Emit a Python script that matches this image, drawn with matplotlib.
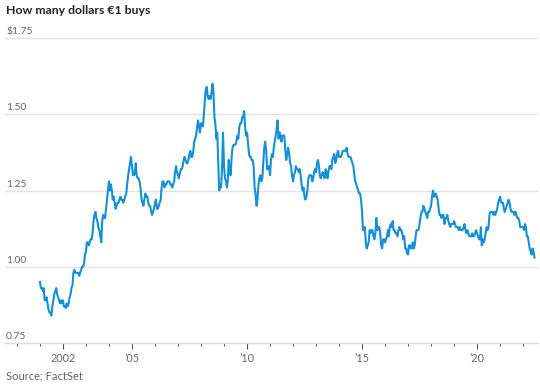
import matplotlib
matplotlib.use("Agg")
import matplotlib.pyplot as plt
import matplotlib.dates as mdates
import matplotlib.transforms as mtransforms
import pandas as pd

# EUR/USD, two readings per month (1st and 15th), Jan 2001 - Jul 2022
r2001 = [0.95, 0.93, 0.93, 0.92, 0.93, 0.89, 0.89, 0.90, 0.88, 0.86, 0.85, 0.85,
         0.84, 0.87, 0.89, 0.91, 0.92, 0.93, 0.91, 0.90, 0.89, 0.88, 0.89, 0.88]
r2002 = [0.89, 0.87, 0.87, 0.865, 0.88, 0.87, 0.88, 0.90, 0.91, 0.93, 0.94, 0.98,
         0.99, 0.98, 0.98, 0.98, 0.98, 0.97, 0.98, 0.99, 1.00, 1.00, 1.01, 1.04]
r2003 = [1.05, 1.08, 1.08, 1.07, 1.08, 1.09, 1.09, 1.11, 1.15, 1.17, 1.18, 1.16,
         1.15, 1.13, 1.12, 1.10, 1.08, 1.15, 1.17, 1.16, 1.16, 1.19, 1.22, 1.25]
r2004 = [1.28, 1.25, 1.27, 1.25, 1.22, 1.23, 1.21, 1.19, 1.20, 1.21, 1.21, 1.22,
         1.23, 1.22, 1.22, 1.21, 1.22, 1.23, 1.24, 1.27, 1.30, 1.32, 1.34, 1.36]
r2005 = [1.33, 1.30, 1.30, 1.31, 1.34, 1.30, 1.29, 1.29, 1.28, 1.26, 1.22, 1.21,
         1.20, 1.22, 1.24, 1.23, 1.23, 1.21, 1.20, 1.20, 1.18, 1.17, 1.18, 1.19]
r2006 = [1.21, 1.22, 1.19, 1.19, 1.20, 1.21, 1.22, 1.26, 1.28, 1.28, 1.26, 1.27,
         1.27, 1.28, 1.28, 1.28, 1.27, 1.27, 1.26, 1.27, 1.28, 1.31, 1.33, 1.31]
r2007 = [1.30, 1.29, 1.31, 1.32, 1.32, 1.33, 1.35, 1.36, 1.35, 1.34, 1.34, 1.35,
         1.37, 1.38, 1.36, 1.36, 1.38, 1.41, 1.42, 1.43, 1.46, 1.48, 1.46, 1.44]
r2008 = [1.47, 1.47, 1.46, 1.50, 1.54, 1.58, 1.59, 1.56, 1.55, 1.56, 1.55, 1.57,
         1.60, 1.58, 1.49, 1.47, 1.42, 1.44, 1.34, 1.25, 1.27, 1.26, 1.33, 1.44]
r2009 = [1.33, 1.29, 1.28, 1.26, 1.28, 1.35, 1.32, 1.30, 1.36, 1.39, 1.40, 1.40,
         1.40, 1.41, 1.43, 1.42, 1.46, 1.47, 1.47, 1.49, 1.49, 1.51, 1.46, 1.43]
r2010 = [1.44, 1.41, 1.37, 1.36, 1.36, 1.35, 1.35, 1.33, 1.26, 1.24, 1.20, 1.22,
         1.27, 1.29, 1.30, 1.28, 1.29, 1.34, 1.39, 1.41, 1.38, 1.32, 1.32, 1.33]
r2011 = [1.30, 1.35, 1.37, 1.36, 1.39, 1.41, 1.43, 1.45, 1.48, 1.42, 1.44, 1.43,
         1.41, 1.43, 1.43, 1.43, 1.38, 1.35, 1.37, 1.39, 1.37, 1.34, 1.33, 1.30]
r2012 = [1.28, 1.30, 1.31, 1.33, 1.32, 1.32, 1.31, 1.32, 1.30, 1.27, 1.25, 1.26,
         1.23, 1.22, 1.23, 1.25, 1.29, 1.30, 1.30, 1.30, 1.28, 1.29, 1.31, 1.32]
r2013 = [1.31, 1.34, 1.35, 1.33, 1.30, 1.29, 1.30, 1.31, 1.30, 1.29, 1.32, 1.31,
         1.29, 1.31, 1.33, 1.33, 1.32, 1.35, 1.36, 1.37, 1.34, 1.35, 1.37, 1.38]
r2014 = [1.36, 1.36, 1.36, 1.37, 1.38, 1.38, 1.38, 1.38, 1.39, 1.37, 1.36, 1.36,
         1.36, 1.35, 1.34, 1.33, 1.30, 1.28, 1.27, 1.26, 1.25, 1.24, 1.24, 1.22]
r2015 = [1.18, 1.12, 1.13, 1.13, 1.08, 1.06, 1.07, 1.08, 1.12, 1.11, 1.12, 1.12,
         1.10, 1.09, 1.11, 1.16, 1.12, 1.13, 1.13, 1.11, 1.07, 1.06, 1.09, 1.09]
r2016 = [1.08, 1.09, 1.10, 1.12, 1.10, 1.13, 1.14, 1.13, 1.15, 1.12, 1.12, 1.11,
         1.11, 1.10, 1.12, 1.13, 1.12, 1.12, 1.11, 1.09, 1.10, 1.06, 1.06, 1.045]
r2017 = [1.04, 1.07, 1.07, 1.06, 1.06, 1.08, 1.06, 1.07, 1.10, 1.12, 1.12, 1.12,
         1.14, 1.16, 1.18, 1.18, 1.20, 1.19, 1.18, 1.17, 1.16, 1.18, 1.18, 1.19]
r2018 = [1.20, 1.23, 1.25, 1.23, 1.23, 1.24, 1.23, 1.22, 1.19, 1.17, 1.17, 1.16,
         1.17, 1.17, 1.14, 1.16, 1.16, 1.17, 1.15, 1.14, 1.13, 1.14, 1.14, 1.14]
r2019 = [1.15, 1.14, 1.13, 1.13, 1.13, 1.12, 1.13, 1.12, 1.12, 1.12, 1.13, 1.14,
         1.12, 1.11, 1.12, 1.11, 1.10, 1.10, 1.10, 1.11, 1.10, 1.10, 1.11, 1.12]
r2020 = [1.11, 1.10, 1.09, 1.09, 1.13, 1.07, 1.09, 1.08, 1.09, 1.11, 1.13, 1.12,
         1.13, 1.17, 1.18, 1.18, 1.18, 1.17, 1.18, 1.17, 1.18, 1.19, 1.21, 1.22]
r2021 = [1.23, 1.21, 1.21, 1.21, 1.19, 1.18, 1.19, 1.20, 1.21, 1.22, 1.21, 1.19,
         1.18, 1.18, 1.18, 1.17, 1.18, 1.17, 1.16, 1.16, 1.15, 1.13, 1.13, 1.13]
r2022 = [1.13, 1.12, 1.14, 1.13, 1.10, 1.10, 1.08, 1.06, 1.05, 1.04, 1.06, 1.05,
         1.03]

rate = (r2001 + r2002 + r2003 + r2004 + r2005 + r2006 + r2007 + r2008 + r2009 + r2010
        + r2011 + r2012 + r2013 + r2014 + r2015 + r2016 + r2017 + r2018 + r2019
        + r2020 + r2021 + r2022)
dates = pd.date_range("2001-01-01", periods=len(rate), freq="SMS")

y_ticks = [0.75, 1.00, 1.25, 1.50, 1.75]
y_labels = ["0.75", "1.00", "1.25", "1.50", "$1.75"]
x_years = [2002, 2005, 2010, 2015, 2020]
x_labels = ["2002", "\u201905", "\u201910", "\u201915", "\u201920"]

FONT = ["Lato", "DejaVu Sans"]
BLUE = "#1590d6"
GREY = "#666666"

fig = plt.figure(figsize=(5.4, 3.88), dpi=100)
ax = fig.add_axes([5 / 540, 45 / 388, 533 / 540, 305 / 388])

ax.plot(dates, rate, color=BLUE, lw=1.5, solid_joinstyle="round")

ax.set_ylim(0.75, 1.75)
ax.set_xlim(pd.Timestamp("1999-06-25"), pd.Timestamp("2022-08-25"))
for s in ["top", "right", "left"]:
    ax.spines[s].set_visible(False)
ax.spines["bottom"].set_color("#dddddd")
ax.spines["bottom"].set_linewidth(1)

ax.set_yticks(y_ticks)
ax.set_yticklabels([])
ax.tick_params(axis="y", length=0)
ax.grid(axis="y", color="#e3e3e3", lw=1)
ax.set_axisbelow(True)

trans = mtransforms.blended_transform_factory(ax.transAxes, ax.transData)
for v, lab in zip(y_ticks, y_labels):
    ax.text(0.002, v + 0.006, lab, transform=trans, ha="left", va="bottom",
            fontsize=7.5, color=GREY, family=FONT)

ax.set_xticks([pd.Timestamp(f"{y}-01-01") for y in x_years])
ax.set_xticklabels(x_labels, family=FONT, fontsize=7.8, color=GREY)
ax.xaxis.set_minor_locator(mdates.YearLocator())
ax.tick_params(axis="x", which="major", length=4, width=0.8, color="#555555", pad=3)
ax.tick_params(axis="x", which="minor", length=2, width=0.8, color="#555555")

fig.text(6 / 540, 1 - 10 / 388, "How many dollars \u20ac1 buys", ha="left", va="center",
         fontsize=8.8, fontweight="bold", color="#222222", family=FONT)
fig.text(6 / 540, 1 - 376 / 388, "Source: FactSet", ha="left", va="center",
         fontsize=8, color=GREY, family=FONT)

fig.savefig("out.png", dpi=100, facecolor="white")
